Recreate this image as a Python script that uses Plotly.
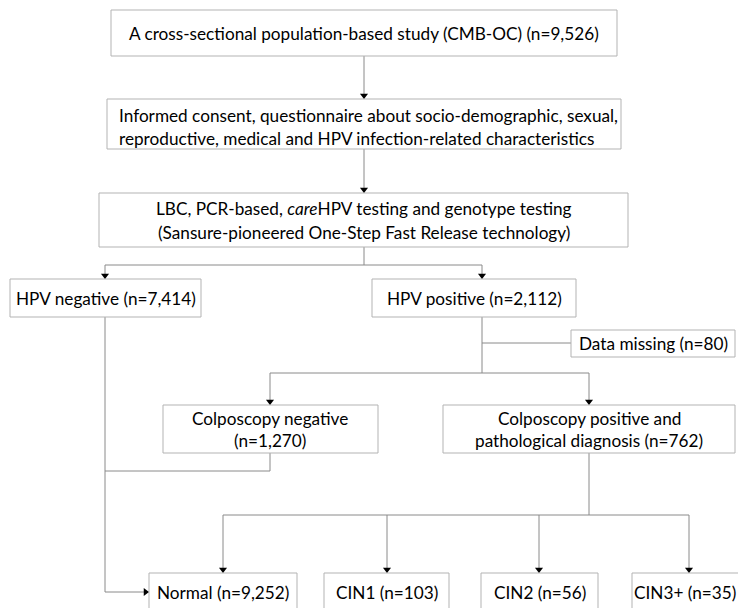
import plotly.graph_objects as go

# ---------------- data ----------------
study_n = 9526
hpv_neg_n = 7414
hpv_pos_n = 2112
missing_n = 80
colpo_neg_n = 1270
colpo_pos_n = 762
outcome_labels = ["Normal", "CIN1", "CIN2", "CIN3+"]
outcome_n = [9252, 103, 56, 35]

# ---------------- text per box ----------------
texts = {
    "study": [f"A cross-sectional population-based study (CMB-OC) (n={study_n:,})"],
    "consent": ["Informed consent, questionnaire about socio-demographic, sexual,",
                "reproductive, medical and HPV infection-related characteristics"],
    "testing": ["LBC, PCR-based, <i>care</i>HPV testing and genotype testing",
                "(Sansure-pioneered One-Step Fast Release technology)"],
    "hpvneg": [f"HPV negative (n={hpv_neg_n:,})"],
    "hpvpos": [f"HPV positive (n={hpv_pos_n:,})"],
    "missing": [f"Data missing (n={missing_n:,})"],
    "colneg": ["Colposcopy negative", f"(n={colpo_neg_n:,})"],
    "colpos": ["Colposcopy positive and", f"pathological diagnosis (n={colpo_pos_n:,})"],
}
for lab, n in zip(outcome_labels, outcome_n):
    texts[lab] = [f"{lab} (n={n:,})"]

# ---------------- layout geometry (pixels, y down) ----------------
boxes = {  # x0, x1, y0, y1
    "study": (111, 617, 10, 56),
    "consent": (107, 621, 99, 149),
    "testing": (99, 628, 193, 247),
    "hpvneg": (10, 201, 279, 317),
    "hpvpos": (372, 576, 279, 317),
    "missing": (571, 735, 330, 357),
    "colneg": (163, 378, 405, 453),
    "colpos": (443, 735, 405, 453),
    "Normal": (149, 297, 573, 640),
    "CIN1": (324, 449, 573, 640),
    "CIN2": (481, 598, 573, 640),
    "CIN3+": (632, 745, 573, 640),
}
text_y = {
    "study": [33], "consent": [115, 138], "testing": [208, 232],
    "hpvneg": [298], "hpvpos": [298], "missing": [343],
    "colneg": [418, 440], "colpos": [418, 440],
    "Normal": [592], "CIN1": [592], "CIN2": [592], "CIN3+": [592],
}
text_x = {"colneg": 270, "colpos": 589, "testing": 364, "study": 364,
          "CIN3+": 685, "missing": 653}
left_aligned = {"consent": 117}

segments = [
    ((364, 56), (364, 99)),
    ((364, 149), (364, 193)),
    ((364, 247), (364, 265)),
    ((105, 265), (482, 265)),
    ((105, 265), (105, 279)),
    ((482, 265), (482, 279)),
    ((482, 317), (482, 373)),
    ((482, 343), (571, 343)),
    ((270, 373), (589, 373)),
    ((270, 373), (270, 405)),
    ((589, 373), (589, 405)),
    ((105, 317), (105, 592)),
    ((105, 592), (149, 592)),
    ((270, 453), (270, 471)),
    ((105, 471), (270, 471)),
    ((589, 453), (589, 515)),
    ((223, 515), (689, 515)),
    ((223, 515), (223, 573)),
    ((387, 515), (387, 573)),
    ((539, 515), (539, 573)),
    ((689, 515), (689, 573)),
]
down_tips = [(364, 99), (364, 193), (105, 279), (482, 279), (270, 405),
             (589, 405), (223, 573), (387, 573), (539, 573), (689, 573)]
right_tips = [(149, 592)]

LINE_C = "#8a8a8a"
BOX_C = "#b3b3b3"
FONT = "Lato, Carlito, Calibri, sans-serif"
FS = 17.2

fig = go.Figure()
shapes = []
for k, (x0, x1, y0, y1) in boxes.items():
    shapes.append(dict(type="rect", x0=x0, x1=x1, y0=y0, y1=y1,
                       line=dict(color=BOX_C, width=1), fillcolor="white",
                       layer="above"))
for (a, b) in segments:
    shapes.append(dict(type="line", x0=a[0], y0=a[1], x1=b[0], y1=b[1],
                       line=dict(color=LINE_C, width=1), layer="below"))

annotations = []
for k, lines in texts.items():
    x0, x1, y0, y1 = boxes[k]
    for line, y in zip(lines, text_y[k]):
        if k in left_aligned:
            annotations.append(dict(x=left_aligned[k], y=y, text=line, showarrow=False,
                                    xanchor="left", yanchor="middle",
                                    font=dict(family=FONT, size=FS, color="#000")))
        else:
            cx = text_x.get(k, (x0 + x1) / 2)
            annotations.append(dict(x=cx, y=y, text=line, showarrow=False,
                                    xanchor="center", yanchor="middle",
                                    font=dict(family=FONT, size=FS, color="#000")))

# arrowheads
fig.add_trace(go.Scatter(
    x=[t[0] for t in down_tips], y=[t[1] - 3.5 for t in down_tips],
    mode="markers", marker=dict(symbol="triangle-down", size=7, color="black"),
    hoverinfo="skip", showlegend=False, cliponaxis=False))
fig.add_trace(go.Scatter(
    x=[t[0] - 3.5 for t in right_tips], y=[t[1] for t in right_tips],
    mode="markers", marker=dict(symbol="triangle-right", size=7, color="black"),
    hoverinfo="skip", showlegend=False, cliponaxis=False))

fig.update_layout(
    width=738, height=608, margin=dict(l=0, r=0, t=0, b=0),
    paper_bgcolor="white", plot_bgcolor="white",
    xaxis=dict(range=[0, 738], visible=False, fixedrange=True),
    yaxis=dict(range=[608, 0], visible=False, fixedrange=True),
    shapes=shapes, annotations=annotations, showlegend=False,
)
fig.write_html(
    "out.html",
    config={"displayModeBar": False},
    post_script="document.body.style.margin='0';document.body.style.overflow='hidden';",
)
